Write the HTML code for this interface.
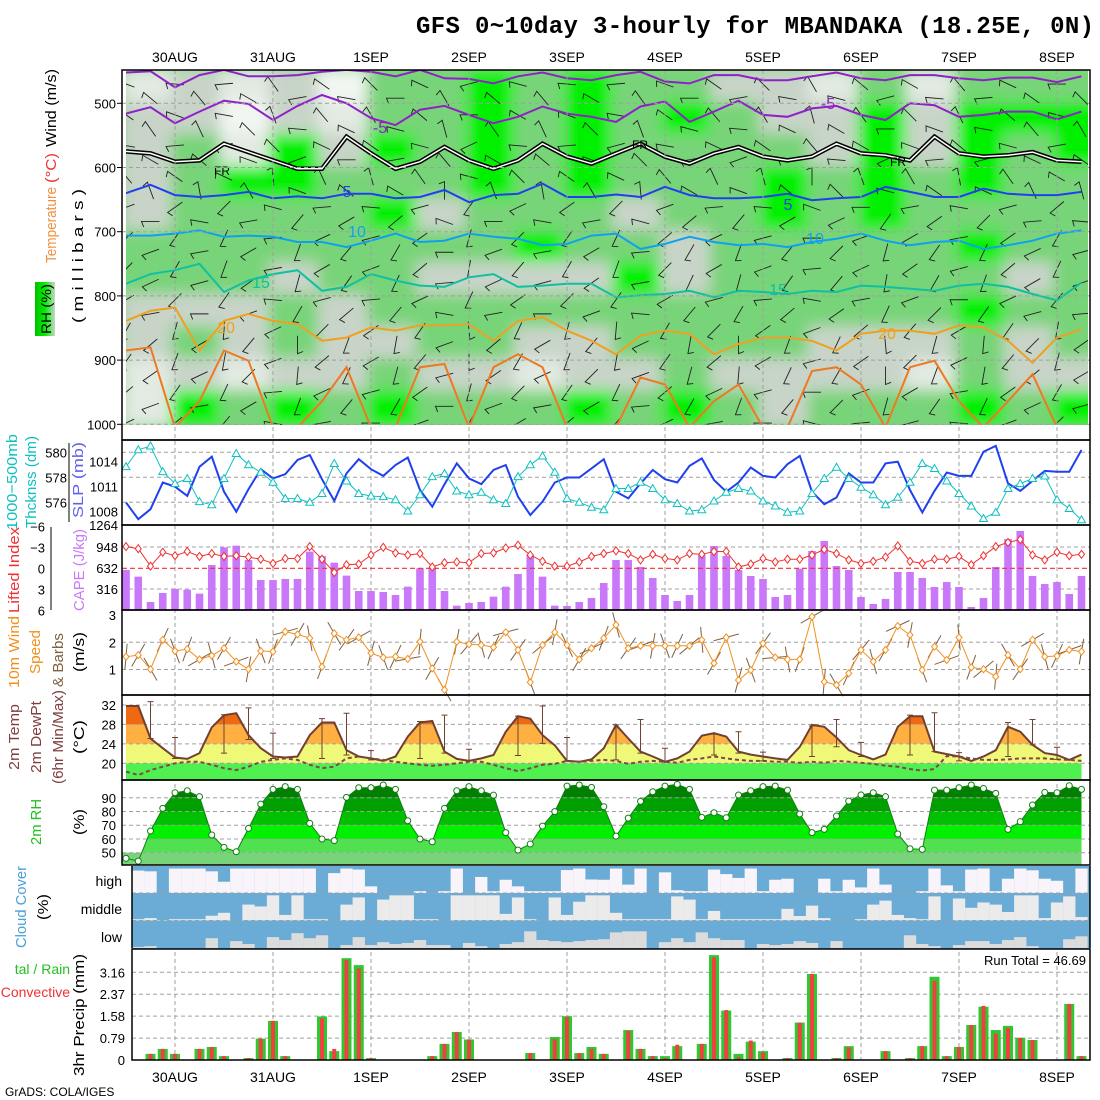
<!DOCTYPE html>
<html><head><meta charset="utf-8"><title>GFS meteogram MBANDAKA</title>
<style>
html,body{margin:0;padding:0;background:#fff;}
svg{display:block;font-family:"Liberation Sans",sans-serif;}
</style></head>
<body>
<svg id="chart" width="1100" height="1100" viewBox="0 0 1100 1100" xmlns="http://www.w3.org/2000/svg">
<defs>
<clipPath id="c1"><rect x="126" y="70" width="962" height="355"/></clipPath>
<clipPath id="c7"><rect x="132" y="866" width="958" height="83"/></clipPath>
<filter id="blur1" x="-5%" y="-5%" width="110%" height="110%"><feGaussianBlur stdDeviation="7"/></filter>
<linearGradient id="rhg" x1="0" y1="0" x2="1" y2="0"><stop offset="0" stop-color="#00c000"/><stop offset="0.5" stop-color="#00f000"/><stop offset="1" stop-color="#c8d4c8"/></linearGradient>
</defs>
<g id="layer-bg"></g>
<g id="layer"></g>
<text x="1094" y="33" text-anchor="end" font-family="Liberation Mono,monospace" font-weight="bold" font-size="24" textLength="678">GFS 0~10day 3-hourly for MBANDAKA (18.25E, 0N)</text>
<text x="5" y="1096" font-size="12">GrADS: COLA/IGES</text>
<text x="1086" y="965" text-anchor="end" font-size="13">Run Total = 46.69</text>
</svg>
<script>
// ---------- DATA ----------
const dayLabels = ["30AUG","31AUG","1SEP","2SEP","3SEP","4SEP","5SEP","6SEP","7SEP","8SEP"];
const rhGridUpper = [
[1,2,2,2,2,3,3,2,2,1,1],[2,2,3,3,3,3,3,2,3,2,4],[1,0,1,4,3,3,3,2,2,1,3],[2,2,4,4,3,3,2,3,3,2,4],
[0,1,2,3,3,3,3,2,2,2,3],[3,3,4,3,4,3,3,3,2,3,4],[3,3,3,3,2,3,2,3,3,2,3],[4,4,4,4,3,3,2,3,3,2,3],
[3,3,3,3,3,4,2,3,2,1,3],[4,4,4,4,3,3,2,3,2,2,4],[3,3,3,3,2,3,4,3,3,2,3],[3,4,3,3,3,2,2,3,3,3,4],
[2,3,3,3,3,3,3,3,3,2,3],[2,2,3,4,4,3,3,3,3,2,2],[1,2,2,3,3,3,3,3,2,2,3],[3,4,4,4,4,3,3,3,2,2,3],
[1,2,2,3,3,3,3,3,2,1,3],[3,4,4,4,3,4,3,4,3,3,4],[3,4,3,3,3,3,2,3,2,2,3],[3,4,4,3,3,3,3,3,3,2,4]];
const isoM5a = [452,450,475,456,448,458,458,456,451,448,451,458,448,461,462,469,458,452,461,464,456,451,466,469,456,456,464,464,458,452,461,464,456,456,461,464,460,460,467,458];
const isoM5b = [516,506,531,513,496,501,526,504,487,500,523,534,510,504,518,531,521,505,516,521,529,505,497,529,513,496,518,521,508,504,518,526,500,503,521,518,513,513,525,513];
const isoFR = [575,578,591,589,563,576,589,602,602,552,578,602,591,568,589,602,589,563,583,594,578,563,583,594,578,568,583,589,583,563,578,581,589,552,578,583,581,576,589,591];
const iso5 = [640,627,643,646,643,638,648,645,648,641,641,648,646,635,654,643,641,625,646,646,642,646,630,643,648,648,646,641,651,648,646,630,638,646,646,633,641,643,643,638];
const iso10 = [706,706,703,698,708,706,708,716,716,724,714,703,716,714,703,708,711,721,719,706,703,727,719,708,716,721,719,724,716,711,703,714,721,716,714,727,721,714,703,698];
const iso15 = [781,766,760,750,794,776,766,760,792,786,766,776,784,786,771,766,786,784,781,781,802,799,797,792,802,792,794,797,792,794,784,786,789,792,784,781,786,797,807,779];
const iso20 = [839,823,818,885,839,828,839,844,870,865,849,854,846,846,844,870,839,833,854,870,891,862,854,859,891,875,865,865,870,885,859,854,854,859,846,849,870,904,865,852];
const iso25 = [885,880,1005,964,885,901,1005,1005,964,911,1005,1005,911,906,1005,911,891,911,1005,1005,1005,927,938,1005,964,938,1005,1005,917,911,938,1005,911,901,964,1005,964,922,1005,1005];
const upperDirLevel = [200,215,190,230,160,140,135,150,120,125,140,155];
const upperDirTime = [0,20,-15,30,-25,10,35,-30,15,-10,25,-20,5,40,-35,20,-5,30,-15,10,-25,35,0,-20,15,-30,25,-10,40,-5,20,-35,10,-15,30,-25,5,15,-20,25];
const thick = [578.85,580.2,580.5,578.45,577.5,577.9,576.05,575.8,577.9,579.9,579.0,578.4,577.6,576.3,576.3,576.0,576.7,579.1,577.7,576.7,576.5,576.45,576.2,575.3,576.6,578.05,578.3,576.9,576.6,576.8,576.2,575.9,578.05,579.0,579.7,578.4,576.3,576.0,575.6,575.4,577.1,577.1,577.6,577.1,576.2,575.9,575.3,575.4,576.1,576.8,577.1,576.9,576.1,575.7,575.2,575.3,576.7,577.9,578.8,577.9,577.2,576.6,575.8,576.4,577.6,579.1,578.7,577.7,576.7,575.7,574.7,575.2,577.1,577.5,577.9,578.1,576.2,575.5,574.6];
const slp = [1009.1,1007.1,1008.3,1011.5,1011.0,1009.9,1013.4,1014.6,1010.4,1008.0,1010.7,1013.1,1012.0,1012.5,1014.2,1014.8,1011.9,1009.3,1012.6,1014.3,1013.1,1012.3,1013.6,1014.5,1010.6,1008.6,1011.3,1013.8,1012.0,1011.3,1013.0,1013.6,1009.8,1007.6,1009.2,1011.5,1012.1,1012.1,1013.2,1014.3,1010.4,1009.6,1011.4,1013.0,1011.9,1011.5,1013.5,1014.4,1011.8,1010.4,1011.5,1013.3,1012.3,1012.1,1013.7,1014.7,1010.4,1008.9,1009.7,1012.6,1011.5,1011.5,1013.8,1014.0,1010.6,1007.9,1010.5,1012.7,1012.3,1012.3,1015.2,1015.9,1011.4,1010.5,1011.7,1012.9,1012.8,1012.8,1015.4];
const cape = [602,502,120,256,316,306,246,677,943,968,752,451,451,467,467,878,813,712,517,286,286,271,226,351,627,637,286,65,105,120,201,351,542,828,502,65,60,120,181,406,752,752,647,482,226,135,226,828,963,813,602,512,467,196,226,622,888,1038,662,602,196,90,166,572,572,482,346,421,346,45,181,647,1068,1189,512,391,421,241,512];
const liftedIndex = [-3.1,-2.8,-0.3,-2.3,-1.8,-2.4,-1.7,-2.1,-1.7,-1.8,-1.6,-1.3,-0.7,-1.4,-1.4,-3.1,-1.3,0.6,-0.5,-0.6,-1.9,-3.0,-2.2,-1.9,-2.1,-0.2,-0.8,-0.9,-0.8,-2.1,-2.2,-2.9,-3.3,-1.9,-1.0,-0.3,-0.3,-0.9,-1.7,-2.1,-2.5,-2.1,-1.2,-2.0,-1.4,-1.2,-2.1,-2.0,-2.4,-2.4,-0.2,-0.6,-1.4,-0.9,-1.3,-1.3,-1.9,-2.7,-2.1,-1.2,-0.7,-1.0,-1.6,-3.2,-1.0,-0.7,-1.3,-1.3,-1.7,-0.5,-1.8,-3.1,-3.7,-4.1,-1.9,-1.2,-2.3,-1.8,-2.0];
const wind10 = [1.47,1.53,1.01,2.09,1.68,1.75,1.37,1.51,1.78,1.29,1.01,1.68,1.66,2.39,2.29,2.15,1.10,2.33,2.09,2.18,1.60,1.44,1.47,1.39,2.02,1.04,0.25,2.02,1.93,1.90,1.82,2.37,1.72,0.53,1.90,2.37,1.90,1.37,1.78,2.15,2.64,1.78,1.87,1.87,1.87,1.87,1.87,2.09,1.23,2.18,0.61,0.98,1.96,1.44,1.37,1.37,2.94,0.55,0.43,0.86,1.72,1.29,1.72,2.60,2.27,0.98,1.84,1.35,2.18,1.08,1.01,0.74,1.53,1.01,2.09,1.47,1.50,1.72,1.66];
const windDir10 = [95,120,60,115,70,110,150,75,120,160,100,70,110,165,120,80,110,60,125,150,105,70,115,170,95,120,60,100,130,75,115,165,125,70,140,100,65,120,155,110,75,125,160,100,70,115,140,85,120,165,105,70,125,175,80,110,150,95,60,115,130,75,120,155,100,70,120,160,85,110,140,95,60,125,150,75,115,160,100];
const temp2m = [31.8,31.8,25.1,23.1,21.2,20.9,22.1,27.4,29.9,30.3,25.8,23.1,21.4,21.2,21.4,25.8,28.4,28.4,22.7,21.4,21.0,20.5,21.4,25.5,28.4,28.7,22.4,20.9,20.5,21.0,21.7,26.5,29.7,29.2,25.8,23.7,20.5,20.3,20.8,23.1,27.9,25.1,22.4,21.4,20.3,21.0,22.4,25.7,26.2,25.5,22.4,21.8,21.4,21.0,20.7,23.4,27.9,27.5,25.3,22.7,21.7,20.8,21.8,27.5,29.7,29.7,22.4,21.9,21.4,20.5,21.4,22.7,27.5,26.5,23.8,22.1,21.7,20.7,21.8];
const dew2m = [18.3,17.6,18.6,19.3,20.0,20.3,20.3,19.7,19.0,18.6,19.3,20.3,20.7,21.0,20.7,19.7,19.0,19.3,21.0,21.4,21.0,20.7,20.3,20.0,19.7,19.5,19.7,20.0,20.3,20.3,19.7,19.0,18.4,19.0,19.7,19.9,20.5,20.3,20.5,20.7,20.5,19.9,20.3,20.5,20.3,20.1,20.7,21.0,21.4,21.0,20.7,20.5,20.5,20.3,20.3,20.1,20.3,20.1,20.5,20.3,20.1,19.9,19.5,19.3,18.8,18.5,18.8,21.5,21.4,21.0,20.7,20.7,20.8,21.0,21.0,21.0,20.8,20.7,20.5];
const tBarIdx = [2,4,8,10,12,16,18,20,24,26,28,32,34,36,40,42,44,48,50,52,56,58,60,64,66,68,72,74,76];
const tBarMax = [32.7,25.3,30.0,31.4,26.2,29.2,30.3,22.6,28.6,29.9,22.9,29.7,31.8,25.3,27.9,29.0,23.1,26.0,26.5,22.3,27.7,29.0,24.3,29.9,30.4,22.2,28.4,29.0,23.3];
const tBarMin = [25.1,21.0,22.1,24.9,21.0,21.0,21.7,20.7,21.0,22.1,20.5,21.6,24.1,20.5,20.7,22.1,20.3,21.7,22.1,20.5,21.4,23.4,21.4,21.7,22.4,20.5,21.4,23.8,20.8];
const rh2m = [45.9,43.9,65.8,82.3,93.7,95.1,90.8,62.9,53.9,50.7,67.7,85.4,96.1,98.1,96.1,71.4,60.0,58.8,90.3,97.3,97.3,99.3,96.1,73.3,60.0,58.0,82.3,95.1,98.1,95.1,91.9,64.6,51.9,56.3,69.4,79.9,98.5,99.3,97.6,83.5,62.1,75.2,87.4,94.4,98.5,99.8,96.1,75.7,79.1,75.5,92.0,95.1,98.1,98.5,95.6,78.2,64.6,67.0,76.7,87.6,92.0,93.7,90.8,63.6,52.9,52.4,95.6,95.6,97.3,99.3,96.8,93.2,67.0,72.6,84.7,93.9,93.7,98.8,96.1];
const cloudHigh = [12,15,100,4,4,4,15,56,4,4,4,4,4,4,4,100,22,4,8,74,100,100,100,93,100,93,4,100,37,93,48,74,93,93,93,10,4,47,48,4,67,4,100,19,89,93,93,8,26,41,4,93,48,44,100,100,44,93,48,78,4,67,100,100,93,4,70,93,8,4,93,44,4,11,44,52,100,4];
const cloudMid = [95,91,98,95,95,95,82,71,100,40,47,5,79,5,95,95,100,40,13,100,21,5,5,95,95,100,5,5,5,5,75,13,95,100,13,79,29,5,5,71,95,95,95,95,9,21,95,64,95,95,95,95,95,56,83,44,91,100,100,95,40,25,79,91,95,9,100,17,52,32,40,68,5,5,91,32,9,87];
const cloudLow = [96,93,100,100,100,100,63,100,74,85,100,59,70,44,63,52,100,89,59,89,78,85,81,70,89,89,100,81,93,100,85,78,37,70,74,78,74,70,67,41,37,37,100,78,63,78,41,63,70,70,100,85,89,85,74,81,100,74,100,100,100,100,100,52,85,93,100,89,74,74,85,70,59,93,100,100,67,56];
const precipIdx = [2,3,4,6,7,8,10,11,12,13,16,17,18,19,20,25,26,27,28,33,35,36,37,38,39,41,42,43,44,45,47,48,49,50,51,52,54,55,56,58,59,62,64,65,66,67,68,69,70,71,72,73,74,77,78];
const precipTotal = [0.22,0.40,0.22,0.40,0.47,0.14,0.07,0.77,1.41,0.14,1.57,0.32,3.67,3.42,0.07,0.14,0.58,1.01,0.74,0.25,0.83,1.58,0.25,0.47,0.22,1.08,0.40,0.14,0.14,0.50,0.58,3.78,1.78,0.22,0.66,0.32,0.07,1.35,3.10,0.07,0.50,0.32,0.07,0.50,3.00,0.14,0.47,1.26,1.92,1.08,1.23,0.80,0.72,2.02,0.14];
const precipConv = [0.22,0.40,0.22,0.40,0.47,0.14,0.07,0.77,1.41,0.14,1.50,0.40,3.60,3.30,0.07,0.14,0.58,1.01,0.74,0.25,0.75,1.55,0.25,0.40,0.22,1.05,0.40,0.14,0.07,0.55,0.58,3.70,1.80,0.10,0.70,0.28,0.07,1.35,3.10,0.07,0.45,0.32,0.07,0.50,2.85,0.14,0.47,1.26,1.95,0.95,1.15,0.80,0.72,2.02,0.14];

// ---------- HELPERS ----------
const NS = "http://www.w3.org/2000/svg";
const L = document.getElementById('layer');
function mk(tag, attrs, parent){const e=document.createElementNS(NS,tag);for(const k in attrs)e.setAttribute(k,attrs[k]);(parent||L).appendChild(e);return e;}
const xi = i => 126 + 12.25*i;
const X0 = 122, X1 = 1090;
const yP = p => 103.3 + (p-500)*0.642;
const yThk = v => 477.3 - (v-578)*12.5;
const ySlp = v => 486.7 - (v-1011)*8.33;
const yCape = v => 610 - v*21/316;
const yLI = v => 568.3 + v*7;
const yWs = v => 696.7 - v*27.2;
const yT = v => 763.3 - (v-20)*4.86;
const yRH = v => 852.7 - (v-50)*1.373;
const yPr = v => 1060 - v*27.75;
const dayX = d => xi(4+8*d);
function txt(x,y,s,attrs,name){const t=mk('text',Object.assign({x:x,y:y},attrs||{}));t.textContent=s;return t;}
function hgrid(y,x0,name){const l=mk('line',{x1:x0||X0,x2:X1,y1:y,y2:y,stroke:'#a0a0a0','stroke-dasharray':'4,3','stroke-width':1});}
function poly(pts,attrs,name){const p=mk('polyline',Object.assign({points:pts.map(q=>q[0].toFixed(1)+','+q[1].toFixed(1)).join(' '),fill:'none'},attrs));return p;}

// ---------- PANEL 1: upper air ----------
const rhColors = ['#f2f6f2','#e2eae2','#c8d4c8','#78d478','#00f000'];
const g1 = mk('g',{'clip-path':'url(#c1)'});


const gBlur = mk('g',{filter:'url(#blur1)'},g1);
mk('rect',{x:100,y:60,width:1000,height:380,fill:'#78d478'},gBlur);
rhGridUpper.forEach((col,c)=>{col.forEach((v,r)=>{
  const x=xi(4*c)-4, w=49+8;
  const r0=yP(450+50*r), r1=yP(500+50*r);
  const e=mk('rect',{x:x,y:r0-2,width:w,height:r1-r0+4,fill:rhColors[v]},gBlur);
  
  
});});
for(let k=0;k<40;k++){for(let r=0;r<12;r++){
  const p=470+r*48+(k%2)*22; if(p>1010) continue;
  const x=xi(2*k), y=yP(p);
  const a=(upperDirLevel[r]+upperDirTime[k])*Math.PI/180;
  const dx=Math.cos(a)*9, dy=Math.sin(a)*9;
  const b=mk('path',{d:`M${x-dx},${y-dy}L${x+dx},${y+dy}l${-Math.cos(a+1.2)*6},${-Math.sin(a+1.2)*6}`,stroke:'#202020','stroke-width':0.9,fill:'none'},g1);
  
  
}}
function iso(arr,color,w,name){return poly(arr.map((p,k)=>[xi(2*k),yP(p)]),{stroke:color,'stroke-width':w},name);}
g1.appendChild(iso(isoM5a,'#9020c8',2,'isotherm-minus5-upper'));
g1.appendChild(iso(isoM5b,'#9020c8',2,'isotherm-minus5'));
g1.appendChild(iso(isoFR,'#000',4.5,'freezing-level-outer'));
g1.appendChild(iso(isoFR,'#fff',1.5,'freezing-level-inner'));
g1.appendChild(iso(iso5,'#2040f0',2,'isotherm-5'));
g1.appendChild(iso(iso10,'#10a0f0',2,'isotherm-10'));
g1.appendChild(iso(iso15,'#10c0a0',2,'isotherm-15'));
g1.appendChild(iso(iso20,'#f0a020',2,'isotherm-20'));
g1.appendChild(iso(iso25,'#f07820',2,'isotherm-25'));
[[380,133,'-5','#9020c8'],[828,109,'-5','#9020c8'],[347,197,'5','#2040f0'],[788,210,'5','#2040f0'],[357,237,'10','#10a0f0'],[815,244,'10','#10a0f0'],[261,288,'15','#10c0a0'],[778,295,'15','#10c0a0'],[226,333,'20','#f0a020'],[887,339,'20','#f0a020']].forEach(q=>{
  g1.appendChild(txt(q[0],q[1],q[2],{fill:q[3],'font-size':16,'text-anchor':'middle'},'isotherm-label'));
});
[[222,175],[640,149],[898,166]].forEach(q=>g1.appendChild(txt(q[0],q[1],'FR',{fill:'#000','font-size':12,'text-anchor':'middle'},'freezing-label')));
function frame(x0,y0,x1,y1,name){const r=mk('rect',{x:x0,y:y0,width:x1-x0,height:y1-y0,fill:'none',stroke:'#000','stroke-width':1.5});}
[500,600,700,800,900,1000].forEach(p=>{hgrid(yP(p),X0,'pressure-gridline');txt(116,yP(p)+5,String(p),{'font-size':13,'text-anchor':'end'},'pressure-tick-label');mk('line',{x1:X0-5,x2:X0,y1:yP(p),y2:yP(p),stroke:'#000'});});
dayLabels.forEach((d,k)=>{
  const x=dayX(k);
  const l=mk('line',{x1:x,x2:x,y1:70,y2:1060,stroke:'#a0a0a0','stroke-dasharray':'4,3','stroke-width':1});
  
  
  txt(x,62,d,{'font-size':14,'text-anchor':'middle'},'top-date-label');
  txt(x,1082,d,{'font-size':14,'text-anchor':'middle'},'bottom-date-label');
});
frame(X0,70,X1,440,'upper-air-frame');

// ---------- PANEL 2 ----------
[580,578,576].forEach(v=>{hgrid(yThk(v),X0,'thickness-gridline');txt(67,yThk(v)+5,String(v),{'font-size':13,'text-anchor':'end'},'thickness-tick-label');});
[1014,1011,1008].forEach(v=>txt(118,ySlp(v)+5,String(v),{'font-size':13,'text-anchor':'end'},'slp-tick-label'));
mk('line',{x1:69,x2:69,y1:443,y2:522,stroke:'#000'});
poly(slp.map((v,i)=>[xi(i),ySlp(v)]),{stroke:'#2040f0','stroke-width':2},'slp-line');
poly(thick.map((v,i)=>[xi(i),yThk(v)]),{stroke:'#10c0c0','stroke-width':1},'thickness-line');
thick.forEach((v,i)=>{const x=xi(i),y=yThk(v);const m=mk('path',{d:`M${x},${y-4}L${x+4},${y+3}L${x-4},${y+3}Z`,fill:'#fff',stroke:'#10c0c0','stroke-width':1});});
frame(X0,440,X1,525,'thickness-slp-frame');

// ---------- PANEL 3 ----------
[948,632,316].forEach(v=>{if(v!==632)hgrid(yCape(v),X0,'cape-gridline');txt(118,yCape(v)+5,String(v),{'font-size':13,'text-anchor':'end'},'cape-tick-label');});
txt(118,530,'1264',{'font-size':13,'text-anchor':'end'},'cape-tick-label');
[-6,-3,0,3,6].forEach(v=>txt(45,yLI(v)+5,(v<0?'\u2212'+(-v):String(v)),{'font-size':13,'text-anchor':'end'},'li-tick-label'));
mk('line',{x1:51,x2:51,y1:527,y2:610,stroke:'#000'});
cape.forEach((v,i)=>{const b=mk('rect',{x:xi(i)-3.8,y:yCape(v),width:7.6,height:610-yCape(v),fill:'#c878f8'});});
const z=mk('line',{x1:X0,x2:X1,y1:yLI(0),y2:yLI(0),stroke:'#f03030','stroke-dasharray':'5,3','stroke-width':1.2});


poly(liftedIndex.map((v,i)=>[xi(i),yLI(v)]),{stroke:'#f03030','stroke-width':1},'lifted-index-line');
liftedIndex.forEach((v,i)=>{const x=xi(i),y=yLI(v);const m=mk('path',{d:`M${x},${y-4}L${x+3},${y}L${x},${y+4}L${x-3},${y}Z`,fill:'#fff',stroke:'#f03030'});});
frame(X0,525,X1,610,'cape-frame');

// ---------- PANEL 4 ----------
[2,1].forEach(v=>hgrid(yWs(v),X0,'wind-gridline'));
[3,2,1].forEach(v=>txt(116,yWs(v)+5,String(v),{'font-size':13,'text-anchor':'end'},'wind-tick-label'));
wind10.forEach((v,i)=>{const a=windDir10[i]*Math.PI/180,x=xi(i),y=yWs(v);const dx=Math.cos(a)*13,dy=Math.sin(a)*13;
 const b=mk('line',{x1:x-dx,y1:y-dy,x2:x+dx,y2:y+dy,stroke:'#806040','stroke-width':1});});
poly(wind10.map((v,i)=>[xi(i),yWs(v)]),{stroke:'#f09020','stroke-width':1},'wind10-speed-line');
wind10.forEach((v,i)=>{const x=xi(i),y=yWs(v);const m=mk('path',{d:`M${x},${y-3.5}L${x+3},${y}L${x},${y+3.5}L${x-3},${y}Z`,fill:'#fff',stroke:'#f09020'});});
frame(X0,610,X1,695,'wind10-frame');

// ---------- PANEL 5 ----------
const tPts=temp2m.map((v,i)=>[xi(i),yT(v)]);
const tArea='M'+xi(0)+',780 '+tPts.map(q=>'L'+q[0]+','+q[1]).join(' ')+' L'+xi(temp2m.length-1)+',780Z';
mk('clipPath',{id:'ctemp'},document.querySelector('defs')).appendChild(document.createElementNS(NS,'path')).setAttribute('d',tArea);
const gT=mk('g',{'clip-path':'url(#ctemp)'});


[[28,40,'#f06810'],[24,28,'#ffb040'],[20,24,'#f0f878']].forEach(b=>mk('rect',{x:X0,y:yT(b[1]),width:X1-X0,height:yT(b[0])-yT(b[1]),fill:b[2]},gT));
const gr=mk('rect',{x:xi(0),y:yT(20),width:xi(78)-xi(0),height:780-yT(20),fill:'#50f050'});


[32,28,24,20].forEach(v=>{hgrid(yT(v),X0,'temp-gridline');txt(116,yT(v)+5,String(v),{'font-size':13,'text-anchor':'end'},'temp-tick-label');});
poly(tPts,{stroke:'#704030','stroke-width':2},'temp-line');
poly(dew2m.map((v,i)=>[xi(i),yT(v)]),{stroke:'#804848','stroke-width':2,'stroke-dasharray':'4,3'},'dewpoint-line');
tBarIdx.forEach((ix,k)=>{const x=xi(ix),y0=yT(tBarMax[k]),y1=yT(tBarMin[k]);
 const b=mk('path',{d:`M${x},${y0}L${x},${y1}M${x-3},${y0}L${x+3},${y0}M${x-3},${y1}L${x+3},${y1}`,stroke:'#704030','stroke-width':1,fill:'none'});});
frame(X0,695,X1,780,'temp-frame');

// ---------- PANEL 6 ----------
const rPts=rh2m.map((v,i)=>[xi(i),yRH(v)]);
const rArea='M'+xi(0)+',865 '+rPts.map(q=>'L'+q[0]+','+q[1]).join(' ')+' L'+xi(rh2m.length-1)+',865Z';
mk('clipPath',{id:'crh'},document.querySelector('defs')).appendChild(document.createElementNS(NS,'path')).setAttribute('d',rArea);
const lb=mk('rect',{x:X0,y:yRH(50),width:xi(78)-X0,height:865-yRH(50),fill:'#78d478'});


const gR=mk('g',{'clip-path':'url(#crh)'});


[[50,60,'#50e050'],[60,70,'#00f000'],[70,80,'#00c000'],[80,90,'#00a000'],[90,110,'#008000']].forEach(b=>mk('rect',{x:X0,y:yRH(b[1]),width:X1-X0,height:yRH(b[0])-yRH(b[1]),fill:b[2]},gR));
[90,80,70,60,50].forEach(v=>{hgrid(yRH(v),X0,'rh-gridline');txt(116,yRH(v)+5,String(v),{'font-size':13,'text-anchor':'end'},'rh-tick-label');});
poly(rPts,{stroke:'#108010','stroke-width':1},'rh-line');
rh2m.forEach((v,i)=>{const c=mk('circle',{cx:xi(i),cy:yRH(v),r:3,fill:'#fff',stroke:'#108010'});});
frame(X0,780,X1,865,'rh-frame');

// ---------- PANEL 7 ----------
const gC=mk('g',{'clip-path':'url(#c7)'});


mk('rect',{x:132,y:866,width:958,height:83,fill:'#6aacd6'},gC);
const rows=[[cloudHigh,866.5,893,'#f8f4fa'],[cloudMid,893,920.5,'#ebebeb'],[cloudLow,920.5,948,'#dcdcdc']];
rows.forEach(rw=>{rw[0].forEach((v,k)=>{const i=k+1;const h=(rw[2]-rw[1]-1)*(100-v)/100;if(h<=0)return;
 const r=mk('rect',{x:xi(i)-6.125,y:rw[2]-h,width:12.3,height:h,fill:rw[3]},gC);});});
[893,920.5].forEach(y=>hgrid(y,132,'cloud-row-divider'));
txt(122,886,'high',{'font-size':14,'text-anchor':'end'},'cloud-high-label');
txt(122,914,'middle',{'font-size':14,'text-anchor':'end'},'cloud-middle-label');
txt(122,942,'low',{'font-size':14,'text-anchor':'end'},'cloud-low-label');
mk('line',{x1:132,x2:132,y1:866,y2:948,stroke:'#000','stroke-width':1.5});
mk('line',{x1:1090,x2:1090,y1:866,y2:948,stroke:'#000','stroke-width':1.5});

// ---------- PANEL 8 ----------
[3.16,2.37,1.58,0.79].forEach(v=>{hgrid(yPr(v),132,'precip-gridline');txt(125,yPr(v)+5,v.toFixed(2),{'font-size':13,'text-anchor':'end'},'precip-tick-label');});
txt(125,1065,'0',{'font-size':13,'text-anchor':'end'},'precip-tick-label');
precipIdx.forEach((ix,k)=>{const x=xi(ix);
 const g=mk('rect',{x:x-5,y:yPr(precipTotal[k]),width:10,height:1060-yPr(precipTotal[k]),fill:'#30c830'});
 const r=mk('rect',{x:x-2,y:yPr(precipConv[k]),width:4,height:1060-yPr(precipConv[k]),fill:'#f04040'});});
frame(132,949,X1,1060,'precip-frame');

// ---------- left axis titles ----------
function vtext(x,yCenter,s,color,size,len,name){const t=mk('text',{x:0,y:0,transform:`translate(${x},${yCenter}) rotate(-90)`,'text-anchor':'middle','font-size':size,fill:color});t.textContent=s;if(len){t.setAttribute('textLength',len);t.setAttribute('lengthAdjust','spacingAndGlyphs');}return t;}
vtext(56,108,'Wind (m/s)','#000',15,78,'wind-axis-title');
vtext(56,168,'(°C)','#f03030',15,30,'temp-unit-title');
vtext(56,225,'Temperature','#f09040',15,76,'temperature-axis-title');
const rb=mk('rect',{x:35,y:282,width:20,height:54,fill:'url(#rhg)'});
vtext(51,309,'RH (%)','#000',14,50,'rh-axis-title');
vtext(83,256,'( m i l l i b a r s )','#000',15,134,'millibars-title');
vtext(17,482,'1000\u2212500mb','#10c0c0',15,96,'thickness-axis-title');
vtext(36,482,'Thcknss (dm)','#10c0c0',15,92,'thickness-unit-title');
vtext(83,480,'SLP (mb)','#6060f0',15,76,'slp-axis-title');
vtext(19,570,'Lifted Index','#f03030',15,86,'li-axis-title');
vtext(84,570,'CAPE (J/kg)','#c878f8',15,82,'cape-axis-title');
vtext(19,652,'10m Wind','#f09020',15,72,'wind10-axis-title');
vtext(40,652,'Speed','#f09020',15,44,'wind10-speed-title');
vtext(63,660,'& Barbs','#806040',15,54,'wind10-barbs-title');
vtext(84,652,'(m/s)','#000',15,40,'wind10-unit-title');
vtext(19,737,'2m Temp','#804040',15,66,'temp2m-axis-title');
vtext(41,737,'2m DewPt','#804040',15,72,'dewpt-axis-title');
vtext(63,737,'(6hr Min/Max)','#804040',15,94,'minmax-title');
vtext(84,737,'(°C)','#000',15,34,'temp2m-unit-title');
vtext(41,822,'2m RH','#20c020',15,46,'rh2m-axis-title');
vtext(84,822,'(%)','#000',15,26,'rh2m-unit-title');
vtext(26,907,'Cloud Cover','#4aa0d8',15,82,'cloud-axis-title');
vtext(48,907,'(%)','#000',15,26,'cloud-unit-title');
vtext(84,1015,'3hr Precip (mm)','#000',15,122,'precip-axis-title');
txt(70,974,'tal / Rain',{'font-size':14,fill:'#20c020','text-anchor':'end'},'precip-total-legend');
txt(70,997,'Convective',{'font-size':14,fill:'#f03030','text-anchor':'end'},'precip-conv-legend');
</script>
</body></html>
